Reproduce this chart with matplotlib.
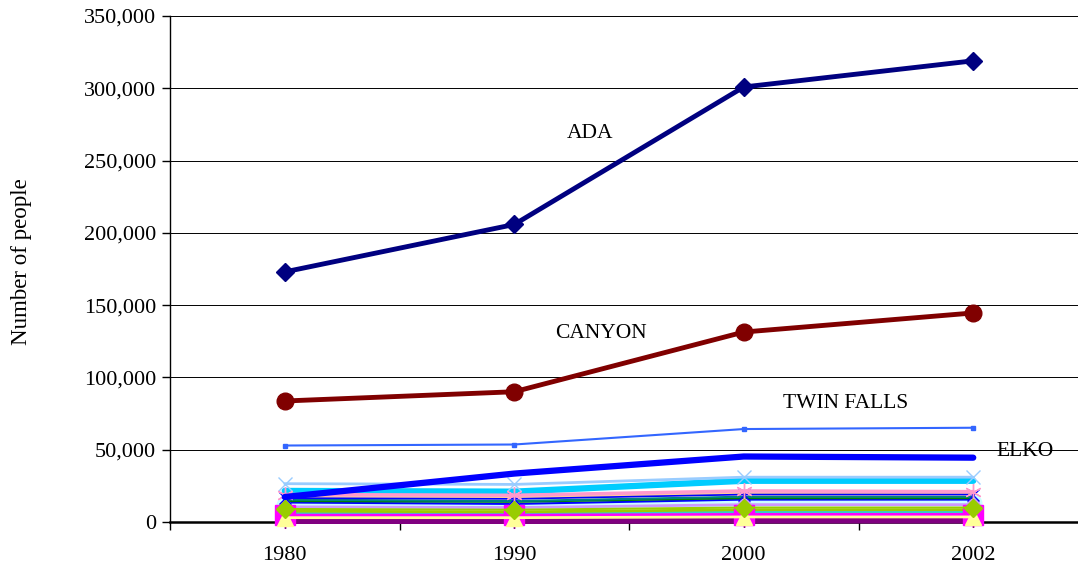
import matplotlib
matplotlib.use("Agg")
import matplotlib.pyplot as plt
from matplotlib.ticker import FuncFormatter, FixedLocator

years = ["1980", "1990", "2000", "2002"]

# values in people
ada = [173000, 205800, 300900, 319000]
canyon = [83700, 90100, 131400, 144600]
twin_falls = [52900, 53600, 64300, 65200]
elko = [17300, 33500, 45300, 44500]
s_lightblue_x = [26500, 26000, 31000, 31000]
s_cyan = [21500, 21000, 28500, 28500]
s_rose_star = [19000, 18500, 21500, 21000]
s_tan = [17500, 17000, 19500, 19500]
s_navy_x = [16500, 16000, 19000, 19000]
s_teal = [15500, 14500, 17500, 17500]
s_blue = [13500, 12500, 15500, 15500]
s_green = [14500, 14000, 16500, 16500]
s_turq_circle = [12000, 11500, 13000, 13000]
s_lavender = [10500, 10000, 12000, 12000]
s_lime_diamond = [9000, 8500, 10000, 10000]
s_olive = [7500, 7000, 8500, 8500]
s_aqua = [6500, 6000, 7000, 7000]
s_pink = [5500, 5000, 6000, 6000]
s_magenta_sq = [4500, 4500, 5000, 5000]
s_yellow_tri = [3000, 3000, 3500, 3500]
s_purple_star = [1500, 1500, 1800, 1800]

fig = plt.figure(figsize=(10.78, 5.70), dpi=100)
ax = fig.add_axes([170/1078, 1-522/570, 1-170/1078, (522-16)/570])
x = list(range(len(years)))

def line(vals, color, lw, marker=None, ms=0, mfc=None, mec=None, z=2):
    ax.plot(x, vals, color=color, lw=lw, marker=marker, ms=ms,
            markerfacecolor=mfc if mfc else color,
            markeredgecolor=mec if mec else color, zorder=z,
            solid_capstyle='round', clip_on=False)

line(s_purple_star, "#800080", 6, (6, 2, 0), 12, mec="#800080", z=3)
line(s_yellow_tri, "#FFFF99", 2, "^", 11, z=5)
line(s_magenta_sq, "#FF00FF", 2.5, "s", 14, z=4)
line(s_pink, "#FF99CC", 1.5)
line(s_aqua, "#33CCCC", 2)
line(s_olive, "#99CC00", 2)
line(s_lime_diamond, "#99CC00", 1.5, "D", 9, z=6)
line(s_lavender, "#CC99FF", 2, "o", 9, z=3)
line(s_turq_circle, "#CCFFFF", 5, "o", 12, z=2)
line(s_blue, "#0000FF", 1.5)
line(s_green, "#008000", 1.5)
line(s_teal, "#008080", 1.5)
line(s_navy_x, "#0000FF", 1.2, "x", 8, z=3)
line(s_tan, "#FFCC99", 2.5)
line(s_rose_star, "#FF99CC", 2.5, (6, 2, 0), 12, z=3)
line(s_cyan, "#00CCFF", 4.5)
line(s_lightblue_x, "#99CCFF", 2, "x", 10)
line(elko, "#0000FF", 4.5, z=3)
line(twin_falls, "#3366FF", 1.5, "s", 3)
line(canyon, "#800000", 3.5, "o", 12, z=4)
line(ada, "#000080", 3.5, "D", 9, z=4)

ax.set_xlim(-0.5, (1078-170)/229.5 - 0.5)
ax.set_ylim(0, 350000)
ax.set_yticks(range(0, 350001, 50000))
ax.yaxis.set_major_formatter(FuncFormatter(lambda v, p: f"{int(v):,}"))
ax.grid(axis='y', color='black', lw=0.7)
ax.set_axisbelow(True)
ax.set_xticks(x)
ax.set_xticklabels(years)
ax.xaxis.set_minor_locator(FixedLocator([-0.5, 0.5, 1.5, 2.5]))
ax.tick_params(axis='x', which='major', length=0, pad=17)
ax.tick_params(axis='x', which='minor', length=6, direction='out', width=1)
ax.tick_params(axis='y', length=6, direction='out', width=1, pad=4)
for lab in ax.get_xticklabels() + ax.get_yticklabels():
    lab.set_fontfamily("Liberation Serif")
    lab.set_fontsize(16)
for s in ["top", "right"]:
    ax.spines[s].set_visible(False)
ax.spines["left"].set_linewidth(1)
ax.spines["bottom"].set_linewidth(1.8)

fig.text(22/1078, 1-262/570, "Number of people", rotation=90, ha='center', va='center',
         fontfamily="Liberation Serif", fontsize=16.5)

def lab(px, py, t):
    fig.text(px/1078, 1-py/570, t, ha='center', va='center',
             fontfamily="Liberation Serif", fontsize=15.5)

lab(590, 133, "ADA")
lab(601, 333, "CANYON")
lab(846, 403, "TWIN FALLS")
lab(1025, 452, "ELKO")

fig.savefig("out.png", dpi=100)
